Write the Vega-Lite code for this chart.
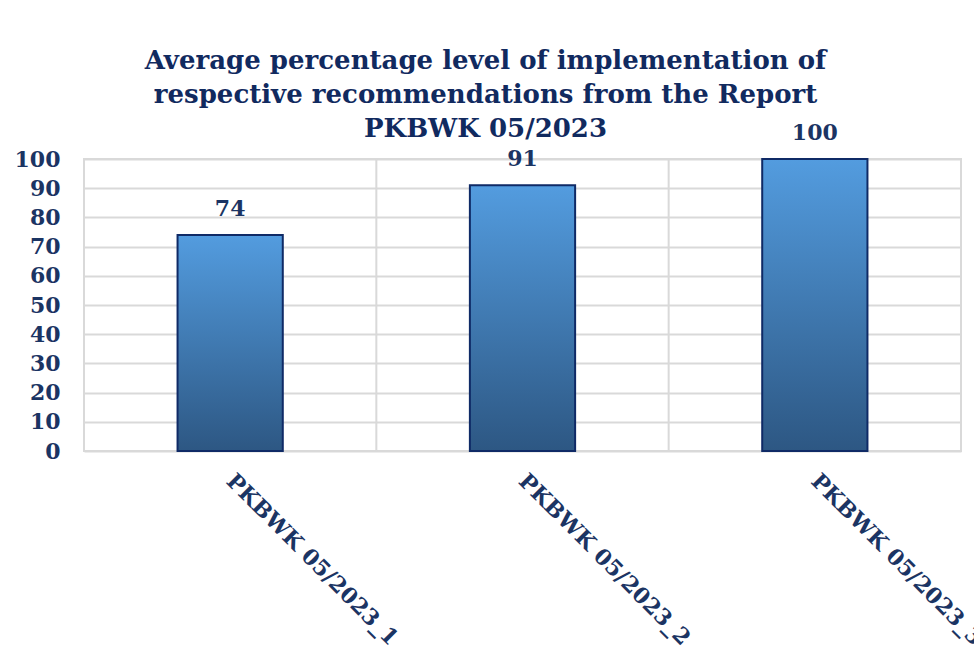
{
  "$schema": "https://vega.github.io/schema/vega-lite/v6.json",
  "autosize": {"type": "none"},
  "width": 877,
  "height": 292,
  "padding": {"left": 84, "top": 159, "right": 13, "bottom": 204},
  "background": "white",
  "title": {
    "text": ["Average percentage level of implementation of", "respective recommendations from the Report", "PKBWK 05/2023"],
    "font": "DejaVu Serif",
    "fontSize": 26,
    "fontWeight": "bold",
    "color": "#112a5f",
    "lineHeight": 34,
    "anchor": "middle",
    "frame": "group",
    "dx": -37,
    "dy": 20,
    "offset": 0
  },
  "config": {
    "view": {"stroke": "#d9d9d9", "strokeWidth": 2},
    "axis": {
      "labelFont": "DejaVu Serif",
      "labelFontWeight": "bold",
      "labelColor": "#1b3463",
      "gridColor": "#d9d9d9",
      "gridWidth": 2,
      "domain": false,
      "ticks": false,
      "title": null
    }
  },
  "data": {
    "values": [
      {"report": "PKBWK 05/2023_1", "value": 74},
      {"report": "PKBWK 05/2023_2", "value": 91},
      {"report": "PKBWK 05/2023_3", "value": 100}
    ]
  },
  "encoding": {
    "x": {
      "field": "report",
      "type": "nominal",
      "sort": null,
      "scale": {"paddingInner": 0, "paddingOuter": 0},
      "axis": {
        "labelAngle": 45,
        "labelAlign": "left",
        "labelBaseline": "middle",
        "labelFontSize": 22,
        "labelPadding": 26,
        "labelLimit": 500,
        "grid": false
      }
    },
    "y": {
      "field": "value",
      "type": "quantitative",
      "scale": {"domain": [0, 100], "nice": false},
      "axis": {
        "values": [0, 10, 20, 30, 40, 50, 60, 70, 80, 90, 100],
        "labelFontSize": 22,
        "labelPadding": 24,
        "grid": true
      }
    }
  },
  "layer": [
    {
      "mark": {"type": "rule", "color": "#d9d9d9", "strokeWidth": 2},
      "encoding": {
        "x": {"field": "report", "type": "nominal", "sort": null, "bandPosition": 0},
        "y": {"value": 0},
        "y2": {"value": 292}
      }
    },
    {
      "mark": {
        "type": "bar",
        "width": {"band": 0.36},
        "stroke": "#0f2a66",
        "strokeWidth": 2,
        "color": {
          "gradient": "linear",
          "x1": 0, "y1": 0, "x2": 0, "y2": 1,
          "stops": [
            {"offset": 0, "color": "#539cdf"},
            {"offset": 1, "color": "#2d5783"}
          ]
        }
      }
    },
    {
      "mark": {
        "type": "text",
        "font": "DejaVu Serif",
        "fontWeight": "bold",
        "fontSize": 22,
        "color": "#1b3463",
        "baseline": "middle",
        "dy": -26
      },
      "encoding": {
        "text": {"field": "value", "type": "quantitative"}
      }
    }
  ]
}
